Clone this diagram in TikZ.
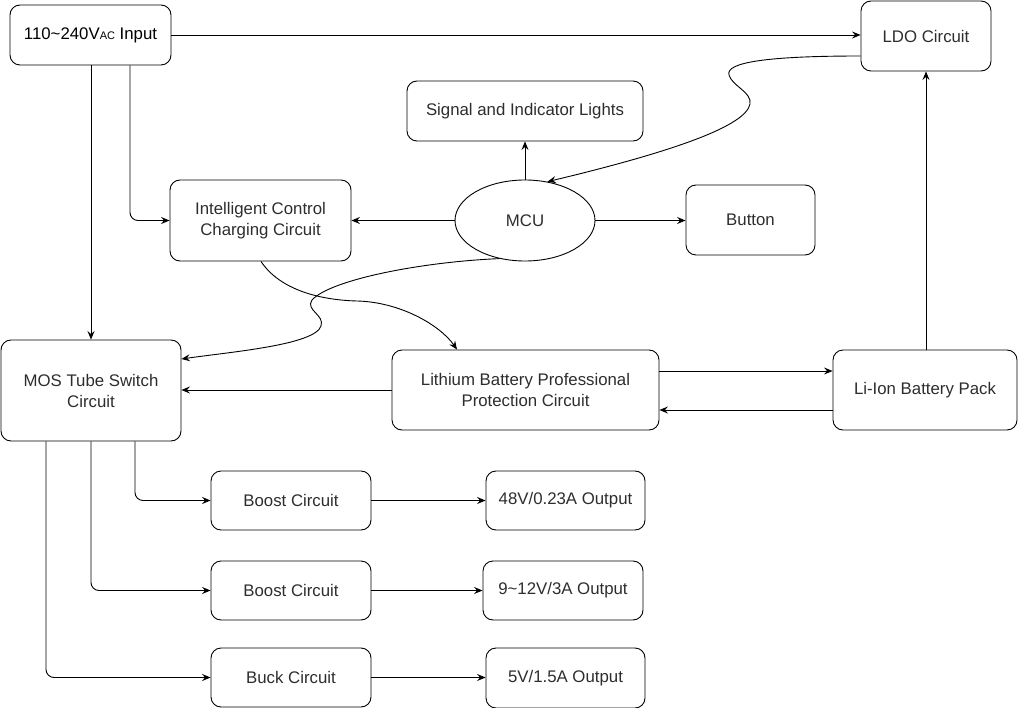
\documentclass[tikz,border=0pt]{standalone}
\usepackage{fontspec}
\setmainfont{Liberation Sans}
\usetikzlibrary{arrows.meta,shapes.geometric}
\definecolor{txt}{RGB}{45,45,45}
\begin{document}
\begin{tikzpicture}[x=1pt,y=-1pt,
  box/.style={draw,line width=0.9pt,rounded corners=10pt,align=center,text=txt,font=\fontsize{16.8}{21}\selectfont,inner sep=0pt},
  arr/.style={-{Stealth[length=8.5pt,width=7pt,inset=3pt]},line width=0.9pt},
  ln/.style={line width=0.9pt}]
\useasboundingbox (0,0) rectangle (1019,708);
% nodes
\node[box,minimum width=161pt,minimum height=60pt,text=black] (in) at (90.5,35) {110\textasciitilde240V{\fontsize{11}{12}\selectfont AC} Input};
\node[box,minimum width=130pt,minimum height=70pt] (ldo) at (926,36) {LDO Circuit};
\node[box,minimum width=236pt,minimum height=60pt] (sig) at (525,111) {Signal and Indicator Lights};
\node[draw,ellipse,line width=0.9pt,minimum width=140pt,minimum height=81pt,inner sep=0pt,text=txt,font=\fontsize{16.8}{21}\selectfont] (mcu) at (525,220.5) {MCU};
\node[box,minimum width=129pt,minimum height=70pt] (btn) at (750.5,220) {Button};
\node[box,minimum width=181pt,minimum height=81pt] (icc) at (260.5,220.5) {Intelligent Control\\Charging Circuit};
\node[box,minimum width=180pt,minimum height=101pt] (mos) at (91,390.5) {MOS Tube Switch\\Circuit};
\node[box,minimum width=267pt,minimum height=80pt] (lbp) at (525.5,390) {Lithium Battery Professional\\Protection Circuit};
\node[box,minimum width=184pt,minimum height=80pt] (lib) at (925,390) {Li-Ion Battery Pack};
\node[box,minimum width=160pt,minimum height=59pt] (b1) at (291,500.5) {Boost Circuit};
\node[box,minimum width=159pt,minimum height=59pt] (o1) at (565.5,500.5) {48V/0.23A Output};
\node[box,minimum width=160pt,minimum height=59pt] (b2) at (291,590.5) {Boost Circuit};
\node[box,minimum width=160pt,minimum height=59pt] (o2) at (563,590.5) {9\textasciitilde12V/3A Output};
\node[box,minimum width=160pt,minimum height=59pt] (b3) at (291,677.5) {Buck Circuit};
\node[box,minimum width=159pt,minimum height=60pt] (o3) at (565.5,678) {5V/1.5A Output};
% connectors
\draw[arr] (in.east) -- (ldo.west |- in.east);
\draw[arr] (in.south -| mos.north) -- (mos.north);
\draw[arr,rounded corners=8pt] ([xshift=39.5pt]in.south) |- (icc.west);
\draw[arr] (mcu.north) -- (sig.south);
\draw[arr] (mcu.west) -- (icc.east);
\draw[arr] (mcu.east) -- (btn.west |- mcu.east);
\draw[arr] ([yshift=-20pt]ldo.west) .. controls (770,56) and (725,62) .. (729,75)
  .. controls (732,86) and (752,92) .. (750,104)
  .. controls (746,125) and (680,150) .. (mcu.60);
\draw[arr] (mcu.236) .. controls (420,262) and (330,280) .. (312,300)
  .. controls (305,310) and (325,315) .. (321,326)
  .. controls (315,345) and (230,352) .. ([yshift=31.5pt]mos.east);
\draw[arr] ([xshift=0.5pt]icc.south) .. controls (280,290) and (320,300) .. (357,301)
  .. controls (400,302) and (440,325) .. ([xshift=-68.5pt]lbp.north);
\draw[arr] (lbp.west) -- (mos.east |- lbp.west);
\draw[arr] ([yshift=19pt]lbp.east) -- ([yshift=19pt]lib.west);
\draw[arr] ([yshift=-20pt]lib.west) -- ([yshift=-20pt]lbp.east);
\draw[arr] (lib.north -| ldo.south) -- (ldo.south);
\draw[arr,rounded corners=8pt] ([xshift=44pt]mos.south) |- (b1.west);
\draw[arr,rounded corners=8pt] (mos.south) |- (b2.west);
\draw[arr,rounded corners=8pt] ([xshift=-45pt]mos.south) |- (b3.west);
\draw[arr] (b1.east) -- (o1.west);
\draw[arr] (b2.east) -- (o2.west);
\draw[arr] (b3.east) -- (o3.west |- b3.east);
\end{tikzpicture}
\end{document}
